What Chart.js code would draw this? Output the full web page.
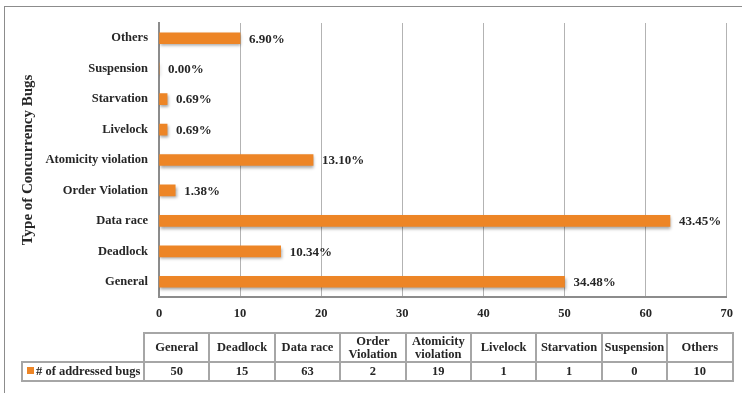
<!DOCTYPE html>
<html>
<head>
<meta charset="utf-8">
<script src="https://cdn.jsdelivr.net/npm/chart.js@4.4.1/dist/chart.umd.min.js"></script>
<style>
  body { margin: 0; background: #fff; }
  #wrap { position: relative; width: 742px; height: 393px; overflow: hidden; }
  #frame { position: absolute; left: 4px; top: 6px; width: 800px; height: 420px;
           border-left: 1px solid #8c8c8c; border-top: 1px solid #8c8c8c; }
  #c { position: absolute; left: 0; top: 0; }
  #tbl { position: absolute; left: 21px; top: 332px; border-collapse: collapse; table-layout: fixed;
         font: bold 12.5px "Liberation Serif"; color: #262626; }
  #tbl td { border: 2px solid #a6a6a6; text-align: center; padding: 0; line-height: 13px; }
  #tbl tr.head td { height: 27px; }
  #tbl tr.vals td { height: 17px; }
  #tbl td.blank { border: none; border-bottom: 2px solid #a6a6a6; }
  #tbl td.legend { text-align: left; padding-left: 4px; white-space: nowrap; }
  .swatch { display: inline-block; width: 7px; height: 7px; background: #ed8526; margin-right: 2px; vertical-align: 1px; }
</style>
</head>
<body>
<div id="wrap">
  <div id="frame"></div>
  <canvas id="c" width="742" height="393"></canvas>
  <table id="tbl"></table>
</div>
<script>
// data
const categories = ['General', 'Deadlock', 'Data race', 'Order Violation', 'Atomicity violation',
                    'Livelock', 'Starvation', 'Suspension', 'Others'];
const tableHeads = ['General', 'Deadlock', 'Data race', 'Order<br>Violation', 'Atomicity<br>violation',
                    'Livelock', 'Starvation', 'Suspension', 'Others'];
const bugCounts = [50, 15, 63, 2, 19, 1, 1, 0, 10];
const pctLabels = ['34.48%', '10.34%', '43.45%', '1.38%', '13.10%', '0.69%', '0.69%', '0.00%', '6.90%'];
const seriesName = '# of addressed bugs';
const xMin = 0, xMax = 70, xStep = 10;

const orange = '#ed8526';
const txt = '#262626';
const serif = '"Liberation Serif", "Times New Roman", serif';

// data table under the chart
var html = '<colgroup><col style="width:122px">';
categories.forEach(function () { html += '<col style="width:65.4px">'; });
html += '</colgroup><tr class="head"><td class="blank"></td>';
tableHeads.forEach(function (h) { html += '<td>' + h + '</td>'; });
html += '</tr><tr class="vals"><td class="legend"><span class="swatch"></span>' + seriesName + '</td>';
bugCounts.forEach(function (v) { html += '<td>' + v + '</td>'; });
html += '</tr>';
document.getElementById('tbl').innerHTML = html;

// grey drop shadow under the bars
const barShadow = {
  id: 'barShadow',
  beforeDatasetsDraw: function (chart) {
    var ctx = chart.ctx;
    ctx.save();
    ctx.shadowColor = 'rgba(0,0,0,0.35)';
    ctx.shadowBlur = 3;
    ctx.shadowOffsetX = 1;
    ctx.shadowOffsetY = 2;
  },
  afterDatasetsDraw: function (chart) {
    chart.ctx.restore();
  }
};

// percentage labels at the end of each bar
const pctPlugin = {
  id: 'pctLabels',
  afterDatasetsDraw: function (chart) {
    var ctx = chart.ctx;
    var meta = chart.getDatasetMeta(0);
    ctx.save();
    ctx.font = 'bold 13px ' + serif;
    ctx.fillStyle = txt;
    ctx.textBaseline = 'middle';
    ctx.textAlign = 'left';
    meta.data.forEach(function (bar, i) {
      ctx.fillText(pctLabels[i], bar.x + 9, bar.y + 1);
    });
    ctx.restore();
  }
};

var ctx = document.getElementById('c');
var myBarChart = new Chart(ctx, {
  type: 'bar',
  data: {
    labels: categories,
    datasets: [{
      label: seriesName,
      data: bugCounts,
      backgroundColor: orange,
      borderWidth: 0,
      barThickness: 11
    }]
  },
  plugins: [barShadow, pctPlugin],
  options: {
    indexAxis: 'y',
    responsive: false,
    animation: false,
    events: [],
    layout: { padding: { left: 0, top: 23, right: 15, bottom: 66 } },
    plugins: { legend: { display: false }, tooltip: { enabled: false } },
    scales: {
      x: {
        min: xMin,
        max: xMax,
        ticks: { stepSize: xStep, padding: 9, color: txt, font: { family: serif, size: 12.5, weight: 'bold' } },
        grid: { color: '#b3b3b3', lineWidth: 1, drawTicks: false },
        border: { color: '#8c8c8c', width: 2 },
        afterFit: function (scale) { scale.height = 30; }
      },
      y: {
        reverse: true,
        ticks: { padding: 11, color: txt, font: { family: serif, size: 12.5, weight: 'bold' } },
        grid: { display: false, drawTicks: false },
        border: { color: '#8c8c8c', width: 2 },
        title: {
          display: true,
          text: 'Type of Concurrency Bugs',
          color: txt,
          padding: { top: 19, bottom: 0 },
          font: { family: serif, size: 15, weight: 'bold' }
        },
        afterFit: function (scale) { scale.width = 159; }
      }
    }
  }
});
</script>
</body>
</html>
